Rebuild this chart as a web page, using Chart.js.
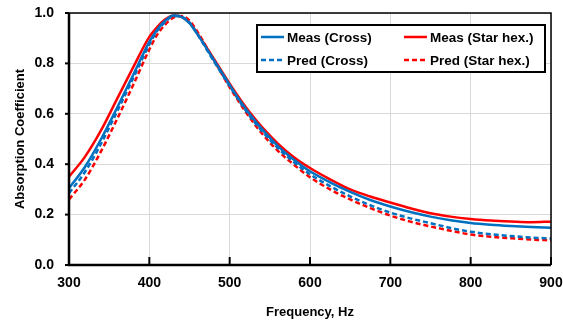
<!DOCTYPE html>
<html>
<head>
<meta charset="utf-8">
<script src="https://cdn.jsdelivr.net/npm/chart.js@4/dist/chart.umd.min.js"></script>
<style>
  html, body { margin: 0; padding: 0; background: #fff; }
  #wrap { width: 563px; height: 320px; position: relative; }
</style>
</head>
<body>
<div id="wrap"><canvas id="absChart"></canvas></div>
<script>
// Dados
const freqs = [300,320,340,360,380,400,410,420,430,440,450,460,480,500,510,520,530,540,560,580,600,625,650,675,700,725,750,775,800,825,850,875,900];
const measCross = [0.305,0.39,0.5,0.625,0.755,0.885,0.935,0.97,0.99,0.985,0.96,0.915,0.815,0.715,0.665,0.62,0.578,0.54,0.472,0.418,0.372,0.328,0.29,0.258,0.232,0.21,0.192,0.178,0.167,0.16,0.155,0.151,0.148];
const measStar = [0.35,0.43,0.535,0.66,0.785,0.905,0.945,0.975,0.99,0.985,0.962,0.918,0.82,0.72,0.672,0.627,0.586,0.548,0.482,0.428,0.385,0.34,0.3,0.272,0.248,0.225,0.205,0.192,0.183,0.177,0.173,0.17,0.172];
const predCross = [0.285,0.37,0.482,0.61,0.742,0.875,0.93,0.965,0.988,0.985,0.962,0.915,0.81,0.71,0.66,0.613,0.57,0.532,0.464,0.408,0.36,0.313,0.272,0.237,0.208,0.185,0.166,0.147,0.132,0.122,0.115,0.109,0.105];
const predStar = [0.26,0.34,0.452,0.58,0.715,0.855,0.915,0.955,0.982,0.988,0.97,0.925,0.815,0.705,0.655,0.607,0.563,0.523,0.453,0.398,0.348,0.3,0.26,0.226,0.196,0.172,0.153,0.136,0.121,0.112,0.106,0.101,0.098];
const xTicks = [300,400,500,600,700,800,900];
const yTicks = [0,0.2,0.4,0.6,0.8,1.0];

const BLUE = '#0070C0';
const RED = '#FF0000';
const FONT = '"Liberation Sans", Arial, sans-serif';

function pts(ys) {
    return freqs.map((f, i) => ({ x: f, y: ys[i] }));
}

// Moldura, ticks internos e legenda
const framePlugin = {
    id: 'frame',
    afterDraw(chart) {
        const c = chart.ctx;
        const a = chart.chartArea;
        const xs = chart.scales.x;
        const ys = chart.scales.y;
        c.save();
        c.strokeStyle = '#000';
        c.lineWidth = 1.5;
        c.beginPath();
        c.moveTo(a.left, a.top);
        c.lineTo(a.right, a.top);
        c.lineTo(a.right, a.bottom);
        c.stroke();
        c.lineWidth = 2.5;
        c.beginPath();
        c.moveTo(a.left, a.top);
        c.lineTo(a.left, a.bottom);
        c.lineTo(a.right, a.bottom);
        c.stroke();
        // ticks do eixo x (para dentro)
        c.lineWidth = 2;
        xTicks.forEach(v => {
            const px = xs.getPixelForValue(v);
            c.beginPath();
            c.moveTo(px, a.bottom);
            c.lineTo(px, a.bottom - 8);
            c.stroke();
        });
        // ticks do eixo y (para fora)
        yTicks.forEach(v => {
            const py = ys.getPixelForValue(v);
            c.beginPath();
            c.moveTo(a.left - 4, py);
            c.lineTo(a.left, py);
            c.stroke();
        });

        // Legenda 2x2
        const L = 257, T = 25, R = 545, B = 72;
        c.fillStyle = '#fff';
        c.fillRect(L, T, R - L, B - T);
        c.strokeStyle = '#000';
        c.lineWidth = 2;
        c.strokeRect(L, T, R - L, B - T);
        const items = [
            { ds: 0, x: 261, y: 37 },
            { ds: 2, x: 404, y: 37 },
            { ds: 1, x: 261, y: 60 },
            { ds: 3, x: 404, y: 60 }
        ];
        c.font = 'bold 13.5px ' + FONT;
        c.textBaseline = 'middle';
        items.forEach(it => {
            const d = chart.data.datasets[it.ds];
            c.strokeStyle = d.borderColor;
            c.lineWidth = 2.5;
            c.setLineDash(d.borderDash || []);
            c.beginPath();
            c.moveTo(it.x, it.y);
            c.lineTo(it.x + 23, it.y);
            c.stroke();
            c.setLineDash([]);
            c.fillStyle = '#000';
            c.fillText(d.label, it.x + 26, it.y + 1);
        });
        c.restore();
    }
};

const ctx = document.getElementById('absChart').getContext('2d');
const chart = new Chart(ctx, {
    type: 'line',
    data: {
        datasets: [
            { label: 'Meas (Cross)', data: pts(measCross), borderColor: BLUE, borderWidth: 2.5 },
            { label: 'Pred (Cross)', data: pts(predCross), borderColor: BLUE, borderWidth: 2.5, borderDash: [5, 3] },
            { label: 'Meas (Star hex.)', data: pts(measStar), borderColor: RED, borderWidth: 2.5 },
            { label: 'Pred (Star hex.)', data: pts(predStar), borderColor: RED, borderWidth: 2.5, borderDash: [5, 3] }
        ]
    },
    options: {
        responsive: true,
        maintainAspectRatio: false,
        animation: false,
        layout: { padding: { top: 13, right: 12, left: 0, bottom: 0 } },
        elements: {
            point: { radius: 0 },
            line: { cubicInterpolationMode: 'monotone', fill: false }
        },
        plugins: {
            legend: { display: false },
            tooltip: { enabled: false }
        },
        scales: {
            x: {
                type: 'linear',
                min: 300,
                max: 900,
                afterBuildTicks: s => { s.ticks = xTicks.map(v => ({ value: v })); },
                afterFit: s => { s.height = 55; s.paddingLeft = 0; s.paddingRight = 0; },
                grid: { color: '#d9d9d9', lineWidth: 1, drawTicks: false },
                border: { display: false },
                ticks: {
                    padding: 10,
                    color: '#000',
                    font: { family: FONT, size: 14, weight: 'bold' }
                },
                title: {
                    display: true,
                    text: 'Frequency, Hz',
                    color: '#000',
                    padding: { top: 2, bottom: 0 },
                    font: { family: FONT, size: 13, weight: 'bold' }
                }
            },
            y: {
                min: 0,
                max: 1.0,
                afterBuildTicks: s => { s.ticks = yTicks.map(v => ({ value: v })); },
                afterFit: s => { s.width = 69; s.paddingTop = 0; s.paddingBottom = 0; },
                grid: { color: '#d9d9d9', lineWidth: 1, drawTicks: false },
                border: { display: false },
                ticks: {
                    padding: 15,
                    color: '#000',
                    font: { family: FONT, size: 14, weight: 'bold' },
                    callback: v => v.toFixed(1)
                },
                title: {
                    display: true,
                    text: 'Absorption Coefficient',
                    color: '#000',
                    padding: { top: 13, bottom: 0 },
                    font: { family: FONT, size: 13, weight: 'bold' }
                }
            }
        }
    },
    plugins: [framePlugin]
});
</script>
</body>
</html>
